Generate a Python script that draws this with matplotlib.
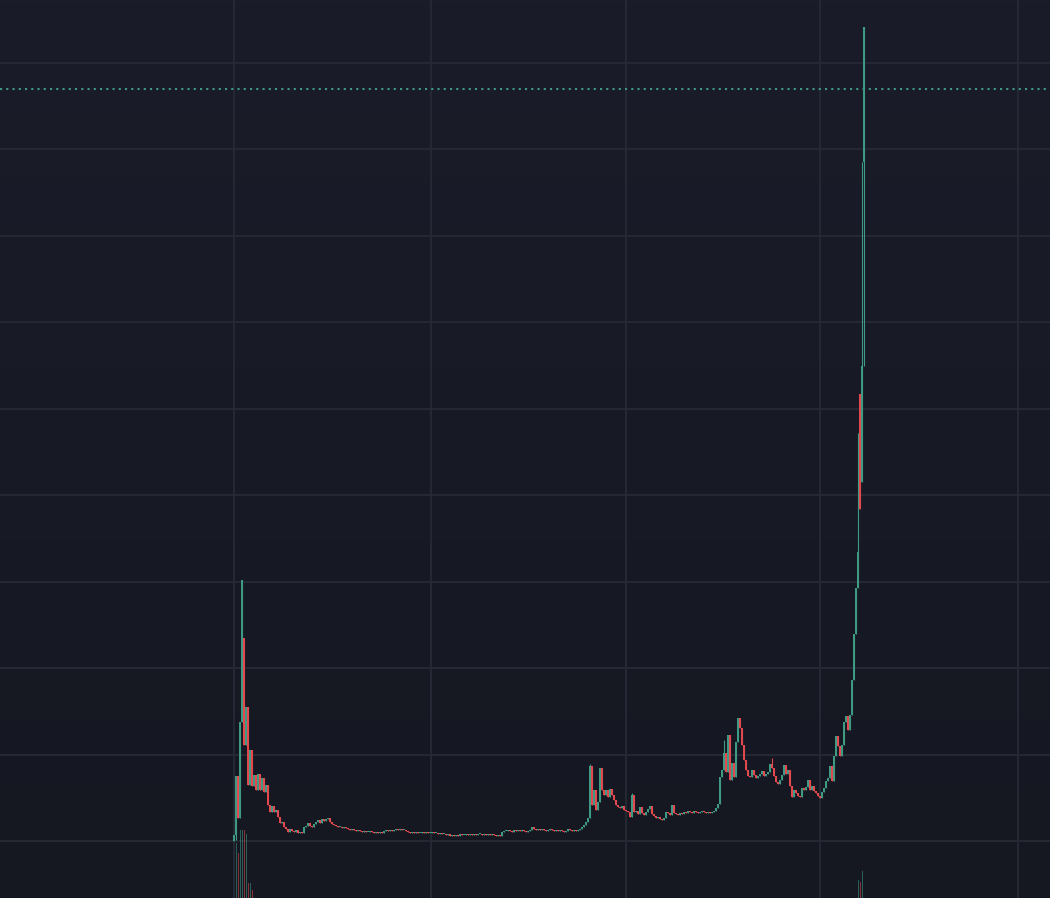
import numpy as np
import matplotlib
matplotlib.use("Agg")
import matplotlib.pyplot as plt
from matplotlib.colors import LinearSegmentedColormap

# closing prices per candle (chart units), oldest first
close = [63, 122, 80, 176, 318, 153, 191, 113, 148, 112,
         123, 108, 124, 108, 120, 106, 113, 93, 86, 92,
         86, 88, 81, 75, 76, 71, 69, 66, 69, 67,
         66, 68, 65, 66, 65, 71, 72, 75, 72, 71,
         74, 76, 78, 75, 79, 77, 79, 80, 76, 74,
         73, 72, 71, 71, 70, 71, 70, 69, 68, 69,
         68, 67, 68, 67, 66, 67, 66, 66, 67, 66,
         65, 66, 65, 66, 65, 67, 68, 67, 68, 67,
         68, 69, 68, 69, 68, 68, 67, 66, 65, 66,
         65, 66, 65, 65, 66, 65, 66, 65, 65, 66,
         65, 65, 64, 65, 64, 64, 63, 64, 62, 63,
         62, 63, 62, 64, 63, 63, 64, 63, 64, 63,
         64, 63, 64, 64, 63, 64, 63, 64, 63, 64,
         63, 62, 63, 62, 66, 67, 67, 68, 67, 66,
         68, 67, 68, 67, 68, 67, 66, 67, 68, 71,
         69, 68, 69, 68, 69, 68, 67, 68, 69, 68,
         67, 68, 67, 68, 67, 66, 67, 69, 68, 67,
         68, 67, 68, 69, 71, 73, 76, 80, 132, 93,
         108, 88, 96, 130, 108, 103, 108, 101, 109, 103,
         98, 93, 91, 90, 92, 88, 87, 86, 81, 103,
         86, 87, 84, 91, 85, 83, 86, 89, 92, 84,
         82, 80, 81, 79, 78, 80, 86, 85, 83, 93,
         85, 84, 83, 85, 84, 86, 85, 87, 86, 85,
         87, 86, 85, 86, 87, 86, 85, 86, 85, 86,
         87, 90, 94, 121, 128, 145, 126, 163, 118, 135,
         121, 156, 180, 170, 153, 138, 128, 122, 121, 128,
         123, 120, 122, 124, 127, 122, 124, 126, 134, 130,
         122, 116, 114, 118, 123, 133, 124, 128, 112, 101,
         108, 105, 102, 101, 110, 108, 111, 118, 108, 112,
         107, 105, 102, 100, 106, 110, 117, 120, 132, 117,
         142, 162, 152, 142, 153, 176, 182, 168, 183, 218,
         264, 310, 346, 389, 532, 871]
first_open = 57
gap_open = {5: 260, 313: 504, 314: 416, 315: 736}
wick_high = {178: 134, 199: 105, 245: 158, 269: 140, 312: 465, 314: 736}
wick_low = {0: 57, 1: 58, 315: 532}

# volume bars (candle index, volume)
vol_idx = [1, 2, 3, 4, 5, 6, 7, 8, 9, 312, 313, 314]
vol = [55, 45, 68, 68, 68, 64, 15, 15, 8, 18, 16, 27]

price_line = 809

green = "#3f9a84"
red = "#e2484e"

n = len(close)
x = np.arange(n)
c = np.array(close, dtype=float)
o = np.empty(n)
o[0] = first_open
o[1:] = c[:-1]
for k, v in gap_open.items():
    o[k] = v
hi = np.maximum(o, c)
lo = np.minimum(o, c)
for k, v in wick_high.items():
    hi[k] = max(hi[k], v)
for k, v in wick_low.items():
    lo[k] = min(lo[k], v)
up = c >= o
cols = np.where(up, green, red)

fig = plt.figure(figsize=(10.5, 8.98), dpi=100)
fig.patch.set_facecolor("#181b26")

# background gradient
bg = fig.add_axes([0, 0, 1, 1])
grad = np.linspace(0, 1, 256).reshape(-1, 1)
bg_cmap = LinearSegmentedColormap.from_list("bg", ["#1a1d29", "#151821"])
bg.imshow(grad, aspect="auto", cmap=bg_cmap, extent=[0, 1, 0, 1])
bg.axis("off")

ax = fig.add_axes([0, 0, 1, 1])
ax.patch.set_visible(False)
ax.set_xlim(-117, 408)
ax.set_ylim(0, 898)
ax.set_yticks(57 + 86.44 * np.arange(10))
ax.set_xticks([0, 98.5, 196, 293, 392])
ax.grid(True, color="#262a36", linewidth=1.3)
ax.set_axisbelow(True)
ax.tick_params(length=0, labelleft=False, labelbottom=False)
for s in ax.spines.values():
    s.set_visible(False)

ax.vlines(x, lo, hi, colors=cols, linewidth=0.8, zorder=3)
body = np.maximum(np.abs(c - o), 1.3)
ax.bar(x, body, bottom=np.minimum(o, c), width=0.95, color=cols,
       linewidth=0, zorder=4)

ax.axhline(price_line, color=green, linewidth=1.5, linestyle=(0, (1, 2)),
           zorder=5)

# volume overlay
axv = ax.twinx()
axv.patch.set_visible(False)
axv.set_ylim(0, 898)
axv.set_xlim(-117, 408)
axv.tick_params(length=0, labelright=False)
for s in axv.spines.values():
    s.set_visible(False)
vcols = [green if up[i] else red for i in vol_idx]
axv.bar(vol_idx, vol, width=0.5, color=vcols, alpha=0.55, linewidth=0)

fig.savefig("out.png", dpi=100, facecolor=fig.get_facecolor())
